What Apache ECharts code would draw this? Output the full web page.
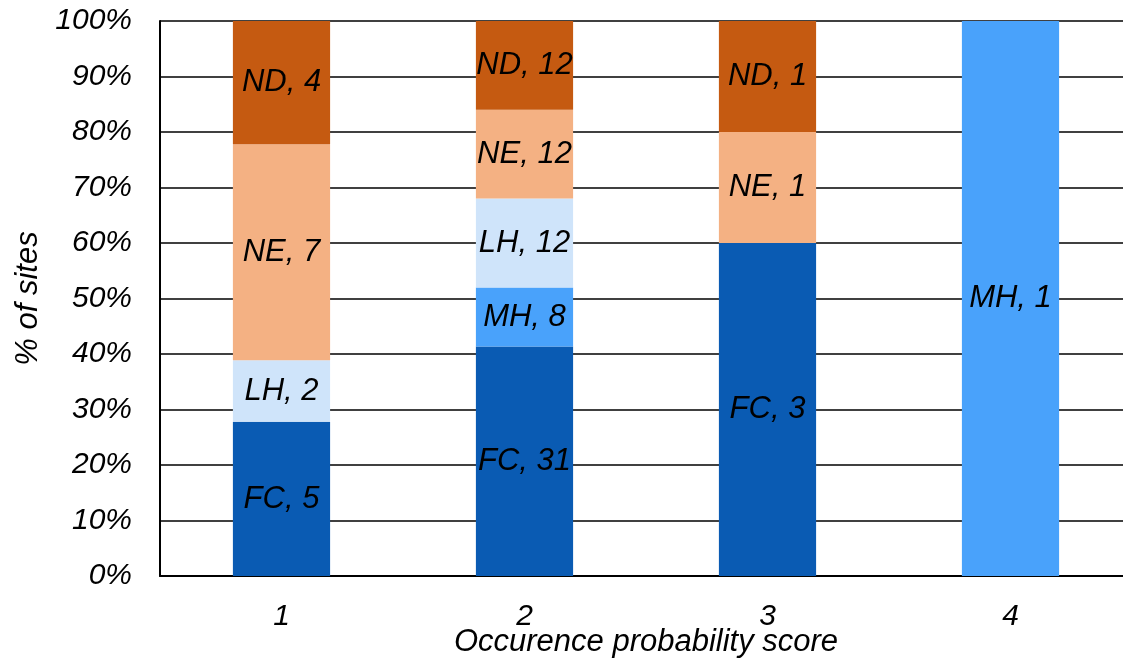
<!DOCTYPE html>
<html><head><meta charset="utf-8">
<script src="https://cdn.jsdelivr.net/npm/echarts@6/dist/echarts.min.js"></script>
<style>html,body{margin:0;padding:0;background:#fff}#c{width:1123px;height:659px}</style>
</head><body><div id="c"></div>
<script>
const categories = ['1', '2', '3', '4'];
const seriesNames = ['FC', 'MH', 'LH', 'NE', 'ND'];
const FC = [5, 31, 3, 0];
const MH = [0, 8, 0, 1];
const LH = [2, 12, 0, 0];
const NE = [7, 12, 1, 0];
const ND = [4, 12, 1, 0];
const yTicks = ['0%','10%','20%','30%','40%','50%','60%','70%','80%','90%','100%'];
const colors = ['#0A5BB3', '#49A2FB', '#CFE4FA', '#F4B183', '#C55A11'];

const counts = [FC, MH, LH, NE, ND];
const totals = categories.map((_, i) => counts.reduce((s, a) => s + a[i], 0));
const font = '"Liberation Sans", Arial, sans-serif';

const series = counts.map((arr, k) => ({
  name: seriesNames[k],
  type: 'bar',
  stack: 'all',
  barWidth: '40%',
  itemStyle: { color: colors[k] },
  label: {
    show: true, position: 'inside', color: '#000',
    fontFamily: font, fontStyle: 'italic', fontSize: 31,
    formatter: p => seriesNames[k] + ', ' + arr[p.dataIndex]
  },
  data: arr.map((v, i) => v > 0 ? v / totals[i] * 100 : null)
}));

const chart = echarts.init(document.getElementById('c'));
chart.setOption({
  animation: false,
  grid: { left: 160, top: 21, width: 972, height: 555, containLabel: false, outerBoundsMode: 'none' },
  xAxis: {
    type: 'category', data: categories,
    axisLine: { lineStyle: { color: '#000', width: 2 } },
    axisTick: { show: false },
    axisLabel: { color: '#000', fontFamily: font, fontStyle: 'italic', fontSize: 30, margin: 26 },
    name: 'Occurence probability score', nameLocation: 'middle', nameGap: 51, nameMoveOverlap: false,
    nameTextStyle: { color: '#000', fontFamily: font, fontStyle: 'italic', fontSize: 31 }
  },
  yAxis: {
    type: 'value', min: 0, max: 100, interval: 10,
    axisLine: { show: true, lineStyle: { color: '#000', width: 2 } },
    axisTick: { show: false },
    splitLine: { lineStyle: { color: '#000', width: 1.5 } },
    axisLabel: { color: '#000', fontFamily: font, fontStyle: 'italic', fontSize: 30, margin: 28,
      formatter: v => yTicks[Math.round(v / 10)] },
    name: '% of sites', nameLocation: 'middle', nameGap: 116, nameMoveOverlap: false,
    nameTextStyle: { color: '#000', fontFamily: font, fontStyle: 'italic', fontSize: 31 }
  },
  series: series
});
</script></body></html>
